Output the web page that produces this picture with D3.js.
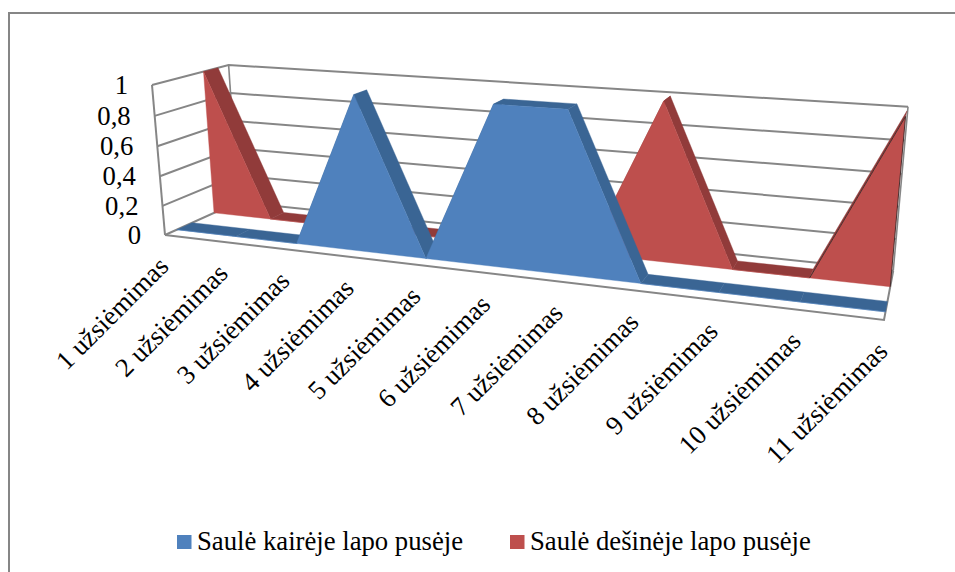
<!DOCTYPE html>
<html><head><meta charset="utf-8">
<script src="https://cdn.jsdelivr.net/npm/d3@7"></script>
<style>html,body{margin:0;padding:0;background:#fff}svg{display:block}text{font-family:"Liberation Serif",serif;fill:#000}</style>
</head><body><div id="c"></div>
<script>
const categories=["1 užsiėmimas","2 užsiėmimas","3 užsiėmimas","4 užsiėmimas","5 užsiėmimas","6 užsiėmimas","7 užsiėmimas","8 užsiėmimas","9 užsiėmimas","10 užsiėmimas","11 užsiėmimas"];
const leftSeries=[0,0,0,1,0,1,1,0,0,0,0];
const rightSeries=[1,0,0,0,0,0,0,1,0,0,1];
const seriesNames=["Saulė kairėje lapo pusėje","Saulė dešinėje lapo pusėje"];
const valueTicks=[0,0.2,0.4,0.6,0.8,1];
const tickLabels=["0","0,2","0,4","0,6","0,8","1"];

const W=955,H=572;
const svg=d3.select("#c").append("svg").attr("width",W).attr("height",H);
const tx=d3.scaleLinear().domain([0,categories.length-1]).range([0,1]);
const ty=d3.scaleLinear().domain([0,1]).range([0,1]);

// perspective box: corners and the w coefficients
const O=[165,235],FX=[884,320],FY=[152,85],FZ=[238,202],pa=-0.19,pb=-0.035,pc=0.1;
const A=[FX[0]*(1+pa)-O[0],FX[1]*(1+pa)-O[1]];
const B=[FY[0]*(1+pb)-O[0],FY[1]*(1+pb)-O[1]];
const C=[FZ[0]*(1+pc)-O[0],FZ[1]*(1+pc)-O[1]];
function P(x,y,z){const w=1+pa*x+pb*y+pc*z;
  return [(O[0]+x*A[0]+y*B[0]+z*C[0])/w,(O[1]+x*A[1]+y*B[1]+z*C[1])/w];}

const grid="#868686";
const line=d3.line();
const pathOf=(pts,close)=>line(pts)+(close?"Z":"");
// border: open on the right and at the bottom, as the reference is cropped there
svg.append("path").attr("d",pathOf([[9,H+2],[9,13],[W+2,13]])).attr("fill","none").attr("stroke",grid).attr("stroke-width",2);

// walls
const g=svg.append("g");
valueTicks.forEach(v=>{
  const y=ty(v);
  g.append("path").attr("d",pathOf([P(0,y,0),P(0,y,1),P(1,y,1)])).attr("fill","none").attr("stroke",grid).attr("stroke-width",2);
});
g.append("path").attr("d",pathOf([P(0,0,0),P(0,1,0)])).attr("fill","none").attr("stroke",grid).attr("stroke-width",2);
g.append("path").attr("d",pathOf([P(0,0,1),P(0,1,1)])).attr("fill","none").attr("stroke",grid).attr("stroke-width",1.6);
g.append("path").attr("d",pathOf([P(1,0,1),P(1,1,1)])).attr("fill","none").attr("stroke",grid).attr("stroke-width",1.6);
g.append("path").attr("d",pathOf([P(0,0,0),P(1,0,0),P(1,0,1)])).attr("fill","none").attr("stroke",grid).attr("stroke-width",2);

function ribbon(vals,z0,z1,col,dark,outline){
  const s=svg.append("g");
  const n=vals.length;
  for(let i=0;i<n-1;i++){
    const a=tx(i),b=tx(i+1),va=ty(vals[i]),vb=ty(vals[i+1]);
    s.append("path").attr("d",pathOf([P(a,va,z0),P(b,vb,z0),P(b,vb,z1),P(a,va,z1)],true)).attr("fill",dark).attr("stroke",dark).attr("stroke-width",.4);
  }
  const front=vals.map((v,i)=>P(tx(i),ty(v),z0));
  const poly=[P(tx(0),0,z0),...front,P(tx(n-1),0,z0)];
  s.append("path").attr("d",pathOf(poly,true)).attr("fill",col).attr("stroke",col).attr("stroke-width",.4);
  if(outline){
    s.append("path").attr("d",pathOf(outline.map(([i,v])=>P(tx(i),ty(v),z0)))).attr("fill","none").attr("stroke","#3b2a2a").attr("stroke-width",.9);
  }
}
ribbon(rightSeries,0.65,0.85,"#BE4F4D","#913B3A",[[9,0],[10,1],[10,0]]);
ribbon(leftSeries,0.15,0.35,"#4F81BD","#3A6594");

valueTicks.forEach((v,i)=>{
  const p=P(0,ty(v),0);
  svg.append("text").attr("x",p[0]-24).attr("y",p[1]+9).attr("text-anchor","end").attr("font-size",26.7).text(tickLabels[i]);
});
categories.forEach((c,i)=>{
  const p=P(tx(i),0,0);
  svg.append("text").attr("transform",`translate(${p[0]+5},${p[1]+33}) rotate(-45)`).attr("text-anchor","end").attr("font-size",26.7).text(c);
});
const legend=[[177,seriesNames[0],"#4F81BD"],[510,seriesNames[1],"#BE4F4D"]];
legend.forEach(([x,t,col])=>{
  svg.append("rect").attr("x",x).attr("y",535).attr("width",14.5).attr("height",14).attr("fill",col);
  svg.append("text").attr("x",x+20).attr("y",550).attr("font-size",26.7).text(t);
});
</script></body></html>
